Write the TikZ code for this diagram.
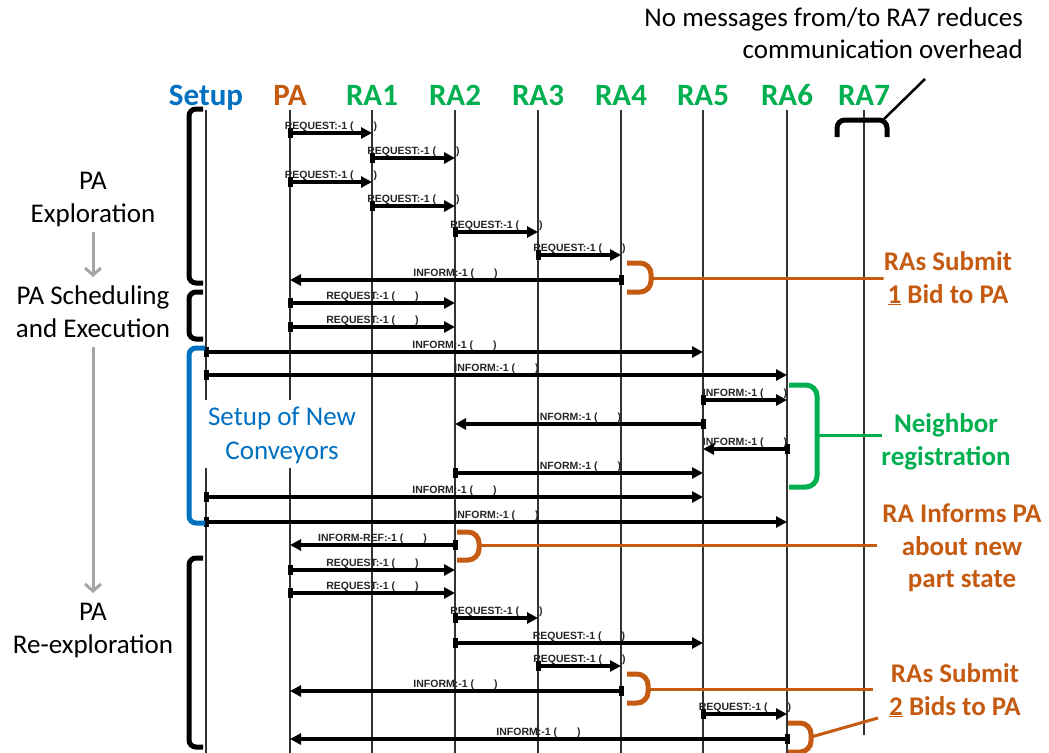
\documentclass[tikz,border=0pt]{standalone}
\usepackage{fontspec}
\setmainfont{Carlito}
\newfontfamily\msgfont{Liberation Sans}
\usetikzlibrary{arrows.meta}
\definecolor{setupblue}{HTML}{0070C0}
\definecolor{paorange}{HTML}{C55A11}
\definecolor{ragreen}{HTML}{00B050}
\definecolor{flowgray}{HTML}{A6A6A6}

\tikzset{
  head/.style={anchor=base, font=\fontsize{31}{37}\selectfont\bfseries, inner sep=0pt},
  phase/.style={anchor=base, font=\fontsize{27}{33}\selectfont, inner sep=0pt},
  remark/.style={anchor=base, font=\fontsize{27}{33}\selectfont\bfseries, inner sep=0pt},
  lifeline/.style={line width=1.1pt, black!80},
  msg/.style={line width=3.4pt, shorten <=-2.5pt,
    {Rectangle[length=5pt,width=10pt]}-{Triangle[length=11pt,width=11pt]}},
  msglabel/.style={anchor=base, yshift=4pt, inner sep=0pt, text=black!85,
    font=\msgfont\bfseries\fontsize{10.5}{12}\selectfont},
  phasebracket/.style={line width=5pt, rounded corners=7pt},
  callout/.style={line width=5pt, rounded corners=11pt},
  leader/.style={line width=3pt},
  flow/.style={flowgray, line width=3pt, -{Straight Barb[length=7pt,width=16pt]}}
}

% one message: y, sender, receiver, label
\newcommand\sendmsg[4]{%
  \draw[msg] (#2 |- 0,#1) -- node[msglabel]{#4 (\hspace{20pt})} (#3 |- 0,#1);}

\begin{document}
\begin{tikzpicture}[x=1pt,y=-1pt]
\useasboundingbox (0,0) rectangle (1049,752);
\clip (0,0) rectangle (1049,752);

% participants
\node[head, text=setupblue] (hSetup) at (206,105) {Setup};
\node[head, text=paorange]  (hPA)    at (290,105) {PA};
\node[head, text=ragreen]   (hRA1)   at (372,105) {RA1};
\node[head, text=ragreen]   (hRA2)   at (455,105) {RA2};
\node[head, text=ragreen]   (hRA3)   at (538,105) {RA3};
\node[head, text=ragreen]   (hRA4)   at (621,105) {RA4};
\node[head, text=ragreen]   (hRA5)   at (703,105) {RA5};
\node[head, text=ragreen]   (hRA6)   at (787,105) {RA6};
\node[head, text=ragreen]   (hRA7)   at (864,105) {RA7};

% lifeline tops
\coordinate (Setup) at (206,110);
\coordinate (PA)  at (290,110);
\coordinate (RA1) at (372,110);
\coordinate (RA2) at (455,110);
\coordinate (RA3) at (538,110);
\coordinate (RA4) at (621,110);
\coordinate (RA5) at (703,110);
\coordinate (RA6) at (787,110);
\coordinate (RA7) at (864,110);

\foreach \p in {Setup,PA,RA1,RA2,RA3,RA4,RA5,RA6}
  \draw[lifeline] (\p) -- (\p |- 0,755);
\draw[lifeline] (RA7) -- (RA7 |- 0,735);

% label area for the conveyor set-up phase
\node[fill=white, minimum width=164pt, minimum height=68pt, inner sep=0pt] (setupArea) at (283,434) {};
\node[phase, text=setupblue] (setupA) at (282,425) {Setup of New};
\node[phase, text=setupblue] (setupB) at (282,459) {Conveyors};

% messages
\sendmsg{133}{PA}{RA1}{REQUEST:-1}
\sendmsg{158}{RA1}{RA2}{REQUEST:-1}
\sendmsg{182}{PA}{RA1}{REQUEST:-1}
\sendmsg{206}{RA1}{RA2}{REQUEST:-1}
\sendmsg{232}{RA2}{RA3}{REQUEST:-1}
\sendmsg{255}{RA3}{RA4}{REQUEST:-1}
\sendmsg{280}{RA4}{PA}{INFORM:-1}
\sendmsg{303}{PA}{RA2}{REQUEST:-1}
\sendmsg{327}{PA}{RA2}{REQUEST:-1}
\sendmsg{352}{Setup}{RA5}{INFORM:-1}
\sendmsg{375}{Setup}{RA6}{INFORM:-1}
\sendmsg{400}{RA5}{RA6}{INFORM:-1}
\sendmsg{424}{RA5}{RA2}{INFORM:-1}
\sendmsg{449}{RA6}{RA5}{INFORM:-1}
\sendmsg{473}{RA2}{RA5}{INFORM:-1}
\sendmsg{497}{Setup}{RA5}{INFORM:-1}
\sendmsg{522}{Setup}{RA6}{INFORM:-1}
\sendmsg{545}{RA2}{PA}{INFORM-REF:-1}
\sendmsg{570}{PA}{RA2}{REQUEST:-1}
\sendmsg{593}{PA}{RA2}{REQUEST:-1}
\sendmsg{618}{RA2}{RA3}{REQUEST:-1}
\sendmsg{643}{RA2}{RA5}{REQUEST:-1}
\sendmsg{666}{RA3}{RA4}{REQUEST:-1}
\sendmsg{691}{RA4}{PA}{INFORM:-1}
\sendmsg{714}{RA5}{RA6}{REQUEST:-1}
\sendmsg{739}{RA6}{PA}{INFORM:-1}

% phase brackets
\draw[phasebracket] (203,109) -- (189,109) -- (189,283) -- (203,283);
\draw[phasebracket] (203,292) -- (189,292) -- (189,339) -- (203,339);
\draw[phasebracket, setupblue] (205,348) -- (189,348) -- (189,523) -- (205,523);
\draw[phasebracket] (203,558) -- (189,558) -- (189,747) -- (203,747);

% phase names
\node[phase] (explA) at (93,189) {PA};
\node[phase] (explB) at (93,222) {Exploration};
\node[phase] (schedA) at (93,304) {PA Scheduling};
\node[phase] (schedB) at (93,337) {and Execution};
\node[phase] (reexA) at (93,620) {PA};
\node[phase] (reexB) at (93,653) {Re-exploration};
\draw[flow] (explB.south |- 0,232) -- (schedA.north |- 0,277);
\draw[flow] (schedB.south |- 0,347) -- (reexA.north |- 0,593);

% remark on the idle RA7
\node[phase, anchor=base east] (noteA) at (1023,27) {No messages from/to RA7 reduces};
\node[phase, anchor=base east] (noteB) at (1023,59) {communication overhead};
\draw[callout, line width=5pt, rounded corners=8pt] (837,137) -- (837,120) -- (887,120) -- (887,137);
\coordinate (ra7tip) at (884,119);
\coordinate (noteEnd) at (925,79);
\draw[line width=2.5pt] (ra7tip) -- (noteEnd);

% first bid
\node[remark, text=paorange] (bidOneA) at (948,270) {RAs Submit};
\node[remark, text=paorange] (bidOneB) at (948,303) {\underline{1} Bid to PA};
\draw[callout, paorange] (627,263) -- (651,263) -- (651,292) -- (627,292);
\coordinate (bidOneFrom) at (651,278);
\draw[leader, paorange] (bidOneFrom) -- (bidOneA.west |- 0,278) -- +(-8,0);

% neighbour registration
\node[remark, text=ragreen] (neighA) at (946,432) {Neighbor};
\node[remark, text=ragreen] (neighB) at (946,465) {registration};
\draw[callout, ragreen] (789,385) -- (817,385) -- (817,487) -- (789,487);
\coordinate (neighFrom) at (817,435);
\coordinate (neighTo) at (882,435);
\draw[leader, ragreen] (neighFrom) -- (neighTo);

% part state update
\node[remark, text=paorange] (stateA) at (962,522) {RA Informs PA};
\node[remark, text=paorange] (stateB) at (962,555) {about new};
\node[remark, text=paorange] (stateC) at (962,587) {part state};
\draw[callout, paorange] (457,532) -- (479,532) -- (479,560) -- (457,560);
\coordinate (stateFrom) at (479,545);
\coordinate (stateTo) at (877,545);
\draw[leader, paorange] (stateFrom) -- (stateTo);

% second bid round
\node[remark, text=paorange] (bidTwoA) at (955,682) {RAs Submit};
\node[remark, text=paorange] (bidTwoB) at (955,715) {\underline{2} Bids to PA};
\draw[callout, paorange] (627,674) -- (648,674) -- (648,703) -- (627,703);
\draw[callout, paorange] (788,723) -- (811,723) -- (811,752) -- (788,752);
\coordinate (bidTwoFrom) at (648,689);
\coordinate (bidTwoTo) at (873,689);
\coordinate (bidThreeFrom) at (811,737);
\coordinate (bidThreeTo) at (878,718);
\draw[leader, paorange] (bidTwoFrom) -- (bidTwoTo);
\draw[leader, paorange] (bidThreeFrom) -- (bidThreeTo);
\end{tikzpicture}
\end{document}
